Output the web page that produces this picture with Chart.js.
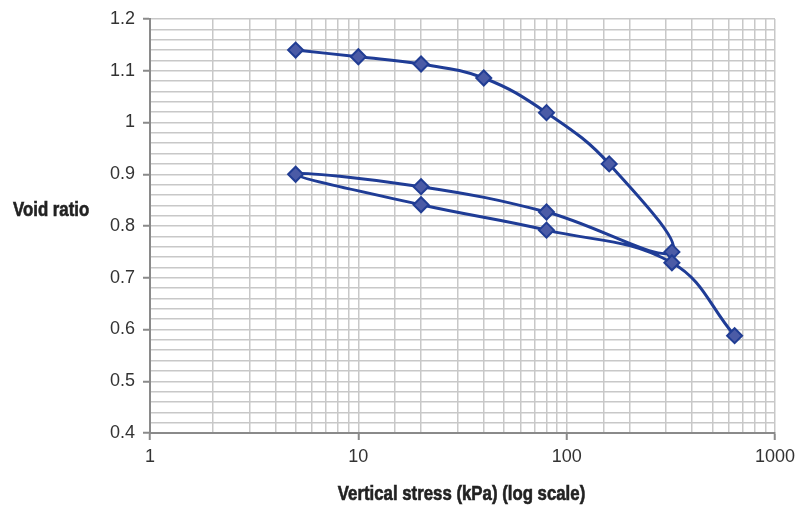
<!DOCTYPE html>
<html>
<head>
<meta charset="utf-8">
<script src="https://cdn.jsdelivr.net/npm/chart.js@4"></script>
<style>
  html, body { margin: 0; padding: 0; background: #ffffff; }
  #wrap { width: 798px; height: 505px; position: relative; }
</style>
</head>
<body>
<div id="wrap"><canvas id="c" width="798" height="505"></canvas></div>
<script>
// ---- data ----
const stressKPa = [5, 10, 20, 40, 80, 160, 320, 80, 20, 5, 20, 80, 320, 640];
const voidRatio = [1.140, 1.127, 1.113, 1.086, 1.019, 0.920, 0.750, 0.827, 0.876, 0.900, 0.841, 0.792, 0.729, 0.588];
const xTickLabels = ['1', '10', '100', '1000'];
const yTickLabels = ['0.4', '0.5', '0.6', '0.7', '0.8', '0.9', '1', '1.1', '1.2'];
const xTitle = 'Vertical stress (kPa) (log scale)';
const yTitle = 'Void ratio';

const points = stressKPa.map((s, i) => ({ x: s, y: voidRatio[i] }));

const tickFont = { family: '"Liberation Sans", Arial, sans-serif', size: 18 };
const titleFontCss = 'bold 20px "Liberation Sans", Arial, sans-serif';
const titleSquash = 0.84;
const gridColor = '#c8c8c8';
const axisColor = '#8a8a8a';

function isDecade(v) {
  const l = Math.log10(v);
  return Math.abs(l - Math.round(l)) < 1e-9;
}
function isTenth(v) {
  return Math.abs(v * 10 - Math.round(v * 10)) < 1e-6;
}

function drawSquashed(ctx, text, x, y, align) {
  ctx.save();
  ctx.translate(x, y);
  ctx.scale(titleSquash, 1);
  ctx.textAlign = align;
  ctx.fillText(text, 0, 0);
  ctx.strokeText(text, 0, 0);
  ctx.restore();
}

const titlesPlugin = {
  id: 'titles',
  afterDraw(chart) {
    const ctx = chart.ctx;
    const a = chart.chartArea;
    ctx.save();
    ctx.fillStyle = '#222222';
    ctx.strokeStyle = '#222222';
    ctx.lineWidth = 0.6;
    ctx.font = titleFontCss;
    ctx.textBaseline = 'middle';
    drawSquashed(ctx, xTitle, (a.left + a.right) / 2 - 1, 494, 'center');
    drawSquashed(ctx, yTitle, 13, 210, 'left');
    ctx.restore();
  }
};

new Chart(document.getElementById('c'), {
  type: 'scatter',
  data: {
    datasets: [{
      data: points,
      showLine: true,
      tension: 0.4,
      borderColor: '#1f3c96',
      borderWidth: 3,
      pointStyle: 'rectRot',
      pointRadius: 7.5,
      pointHoverRadius: 7.5,
      pointBackgroundColor: '#4b5ba6',
      pointBorderColor: '#213d94',
      pointBorderWidth: 2
    }]
  },
  options: {
    responsive: false,
    animation: false,
    events: [],
    layout: { padding: { top: 19, right: 23, left: 0, bottom: 0 } },
    plugins: { legend: { display: false }, tooltip: { enabled: false } },
    scales: {
      x: {
        type: 'logarithmic',
        min: 1,
        max: 1000,
        afterFit(scale) { scale.height = 72; scale.paddingRight = 0; scale.paddingLeft = 0; },
        grid: {
          color: gridColor,
          lineWidth: 1.5,
          drawTicks: true,
          tickLength: 7,
          tickColor: (c) => (c.tick && isDecade(c.tick.value)) ? axisColor : 'rgba(0,0,0,0)',
          tickWidth: 2
        },
        border: { display: true, color: axisColor, width: 2 },
        ticks: {
          autoSkip: false,
          maxRotation: 0,
          padding: 6,
          color: '#333333',
          font: tickFont,
          callback: (v) => {
            if (!isDecade(v)) return '';
            const lbl = String(Math.round(v));
            return xTickLabels.includes(lbl) ? lbl : '';
          }
        }
      },
      y: {
        type: 'linear',
        min: 0.4,
        max: 1.2,
        afterFit(scale) { scale.width = 150; scale.paddingTop = 0; scale.paddingBottom = 0; },
        grid: {
          color: gridColor,
          lineWidth: 1.5,
          drawTicks: true,
          tickLength: 7,
          tickColor: (c) => (c.tick && isTenth(c.tick.value)) ? axisColor : 'rgba(0,0,0,0)',
          tickWidth: 2
        },
        border: { display: true, color: axisColor, width: 2 },
        ticks: {
          stepSize: 0.02,
          autoSkip: false,
          padding: 8,
          color: '#333333',
          font: tickFont,
          callback: (v) => {
            if (!isTenth(v)) return '';
            const lbl = String(Number(v.toFixed(1)));
            return yTickLabels.includes(lbl) ? lbl : '';
          }
        }
      }
    }
  },
  plugins: [titlesPlugin]
});
</script>
</body>
</html>
